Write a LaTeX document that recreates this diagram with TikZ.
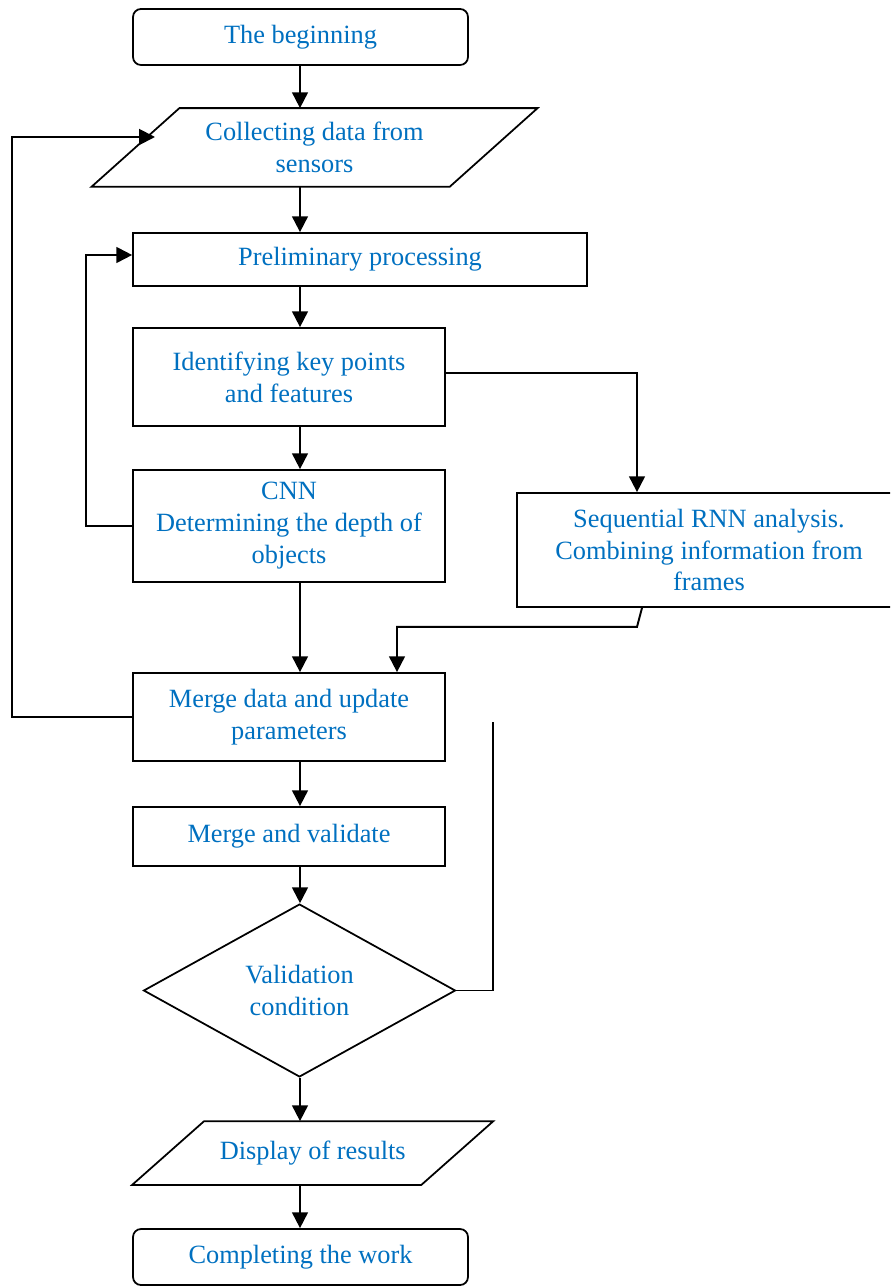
\documentclass[tikz,border=0pt]{standalone}
\usepackage{fontspec}
\setmainfont{Liberation Serif}
\usepackage{xcolor}
\usepackage{tikz}
\usetikzlibrary{
    calc,
    positioning,
    arrows.meta,
    shapes.geometric
}

\begin{document}
\begin{tikzpicture}[
    x=0.02cm, y=-0.02cm,
    font=\fontsize{15}{18.2}\selectfont,
    box/.style={
    	draw, line width=1pt,
    	text=my-blue, align=center, inner sep=2pt,
    	minimum width=6.24cm
    }, term/.style={
    	box, rounded corners=4.5pt,
    	minimum width=6.7cm, minimum height=1.12cm
    }, io/.style={
    	box, draw=none
    }, cond/.style={
    	box, diamond, minimum width=6.24cm, minimum height=3.3cm
    }, pil/.style={
    	-{Triangle[length=9pt, width=9pt]},
    	line width=1.1pt
    }, pil2/.style={
    	line width=1.1pt
    }, frame/.style={
    	line width=1pt, line join=miter
    }]
    \definecolor{my-blue}{RGB}{0, 112, 192}
    \clip (0,0) rectangle (890,1287);

    \node[term] (begin) at (300.5,37) {The beginning};
    \node[io, minimum width=7.13cm, minimum height=1.54cm] (collect) at (314.5,147.5) {Collecting data from\\sensors};
    \node[box, minimum width=9.08cm, minimum height=1.06cm] (prelim) at (360,259.5) {Preliminary processing};
    \node[box, minimum height=1.96cm] (ident) at (289,377) {Identifying key points\\and features};
    \node[box, minimum height=2.24cm] (cnn) at (289,526) {CNN\\Determining the depth of\\objects};
    \node[box, minimum width=7.68cm, minimum height=2.28cm] (rnn) at (709,550) {Sequential RNN analysis.\\Combining information from\\frames};
    \node[box, minimum height=1.76cm] (merge) at (289,717) {Merge data and update\\parameters};
    \node[box, minimum height=1.18cm] (mergeval) at (289,836.5) {Merge and validate};
    \node[cond] (valid) at (299.5,990.5) {Validation\\condition};
    \node[io, minimum width=5.75cm, minimum height=1.24cm] (display) at (312.75,1153) {Display of results};
    \node[term] (done) at (300.5,1257) {Completing the work};

    % parallelogram outlines
    \draw[frame] ([xshift=-0.88cm]collect.south west) -- ([xshift=0.88cm]collect.north west)
        -- ([xshift=0.88cm]collect.north east) -- ([xshift=-0.88cm]collect.south east) -- cycle;
    \draw[frame] ([xshift=-0.72cm]display.south west) -- ([xshift=0.72cm]display.north west)
        -- ([xshift=0.72cm]display.north east) -- ([xshift=-0.72cm]display.south east) -- cycle;

    \coordinate (axis) at (300,0);
    \coordinate (outer) at (12,137);
    \coordinate (loopin) at (155,137);
    \coordinate (inner) at (86,255);
    \coordinate (rnnin) at (637,0);
    \coordinate (rnnout) at (642,0);
    \coordinate (mergein) at (397,0);
    \coordinate (condup) at (493,722);

    % main line
    \draw[pil] (axis |- begin.south) -- (axis |- collect.north);
    \draw[pil] (axis |- collect.south) -- (axis |- prelim.north);
    \draw[pil] (axis |- prelim.south) -- (axis |- ident.north);
    \draw[pil] (axis |- ident.south) -- (axis |- cnn.north);
    \draw[pil] (axis |- cnn.south) -- (axis |- merge.north);
    \draw[pil] (axis |- merge.south) -- (axis |- mergeval.north);
    \draw[pil] (axis |- mergeval.south) -- (axis |- valid.north);
    \draw[pil] (axis |- valid.south) -- (axis |- display.north);
    \draw[pil] (axis |- display.south) -- (axis |- done.north);

    % side branches
    \draw[pil] ([yshift=0.08cm]ident.east) -| (rnnin |- rnn.north);
    \draw[pil] (rnnout |- rnn.south) -- ++(-5,19) -| (mergein |- merge.north);
    \draw[pil] (cnn.west) -| (inner) -- (inner -| prelim.west);
    \draw[pil] (merge.west) -| (outer) -- (loopin);
    \draw[pil2] (valid.east) -| (condup);

\end{tikzpicture}
\end{document}
